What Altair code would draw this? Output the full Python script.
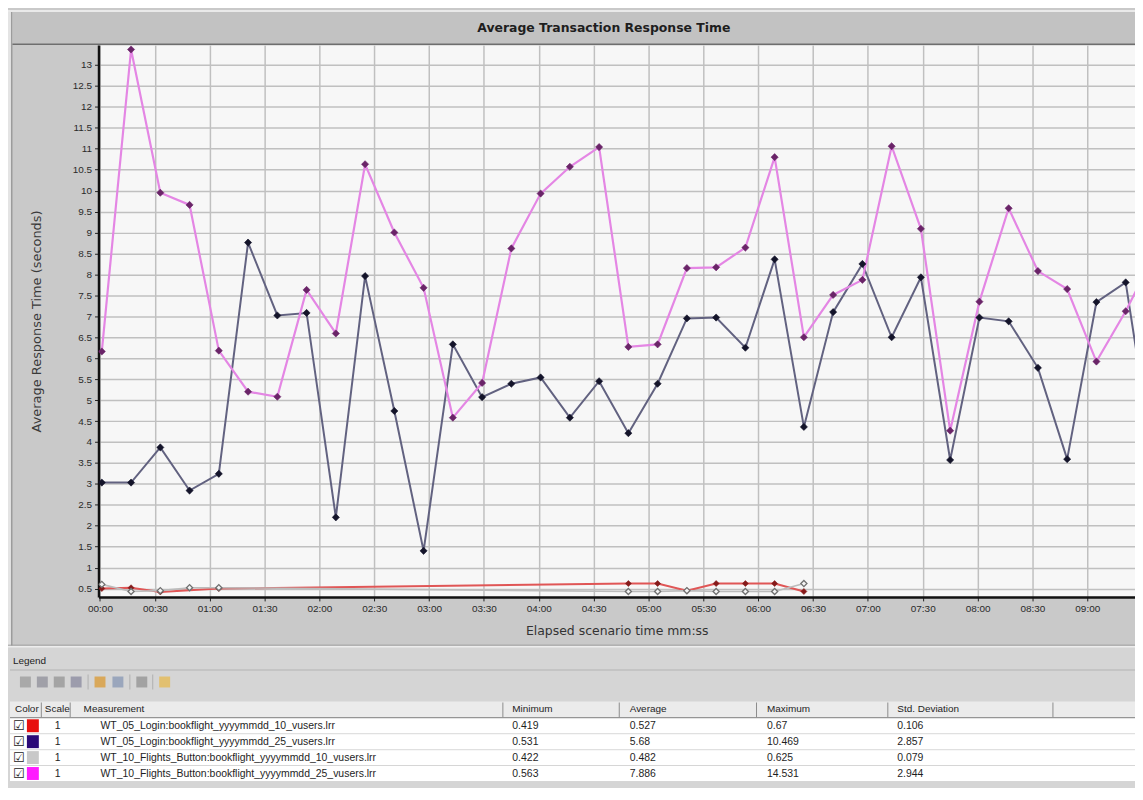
import altair as alt
import pandas as pd

# ---------------- data ----------------
STEP_S = 16          # sampling granularity in seconds
T_OFFSET = 1         # first sample sits just after 00:00

series_names = [
    "WT_05_Login:bookflight_yyyymmdd_10_vusers.lrr",
    "WT_05_Login:bookflight_yyyymmdd_25_vusers.lrr",
    "WT_10_Flights_Button:bookflight_yyyymmdd_10_vusers.lrr",
    "WT_10_Flights_Button:bookflight_yyyymmdd_25_vusers.lrr",
]
series_swatch = ["#e8100e", "#2b0a78", "#c8c8c8", "#ff1cff"]
stat_scale = ["1", "1", "1", "1"]
stat_min = ["0.419", "0.531", "0.422", "0.563"]
stat_avg = ["0.527", "5.68", "0.482", "7.886"]
stat_max = ["0.67", "10.469", "0.625", "14.531"]
stat_std = ["0.106", "2.857", "0.079", "2.944"]

# WT_10_Flights_Button, 25 vusers (magenta)
flights25_resp = [6.16, 13.37, 9.95, 9.66, 6.18, 5.20, 5.08, 7.63, 6.59,
                  10.63, 9.00, 7.68, 4.58, 5.41, 8.62, 9.93, 10.57, 11.04,
                  6.27, 6.33, 8.15, 8.17, 8.64, 10.80, 6.50, 7.51, 7.87,
                  11.06, 9.09, 4.27, 7.35, 9.58, 8.08, 7.65, 5.92, 7.12, 8.50]
# WT_05_Login, 25 vusers (indigo)
login25_resp = [3.03, 3.03, 3.87, 2.84, 3.24, 8.76, 7.02, 7.08, 2.20,
                7.96, 4.74, 1.40, 6.33, 5.07, 5.39, 5.54, 4.58, 5.45,
                4.21, 5.39, 6.95, 6.97, 6.25, 8.36, 4.36, 7.10, 8.25,
                6.50, 7.93, 3.57, 6.97, 6.88, 5.77, 3.59, 7.34, 7.81, 3.30]
# WT_05_Login, 10 vusers (red) - sample indices that have data
login10_idx = [0, 1, 2, 4, 18, 19, 20, 21, 22, 23, 24]
login10_resp = [0.50, 0.52, 0.42, 0.50, 0.62, 0.62, 0.45, 0.62, 0.62, 0.62, 0.43]
# WT_10_Flights_Button, 10 vusers (light gray)
flights10_idx = [0, 1, 2, 3, 4, 18, 19, 20, 21, 22, 23, 24]
flights10_resp = [0.60, 0.43, 0.45, 0.52, 0.52, 0.43, 0.43, 0.45, 0.43, 0.43, 0.43, 0.62]

x_tick_seconds = list(range(0, 541, 30))
y_tick_values = [k / 2 for k in range(1, 27)]

# ---------------- layout ----------------
PLOT_L, PLOT_T = 99, 43        # page position of the plot origin
W, H = 1042, 555
X_DOM = [-0.8, 566.1]
Y_DOM = [0.3, 13.48]

def frame(key, idx, vals):
    return pd.DataFrame({"t": [i * STEP_S + T_OFFSET for i in idx], "v": vals, "s": key})

df = pd.concat([
    frame("login10", login10_idx, login10_resp),
    frame("flights10", flights10_idx, flights10_resp),
    frame("login25", list(range(len(login25_resp))), login25_resp),
    frame("flights25", list(range(len(flights25_resp))), flights25_resp),
], ignore_index=True)

xs = alt.Scale(domain=X_DOM, nice=False, zero=False)
ys = alt.Scale(domain=Y_DOM, nice=False, zero=False)

label_expr = ("(floor(datum.value/60) < 10 ? '0' : '') + floor(datum.value/60) + ':' + "
              "(datum.value % 60 < 10 ? '0' : '') + (datum.value % 60)")

x_axis = alt.Axis(orient="bottom", values=x_tick_seconds, labelExpr=label_expr, labelFlush=False,
                  grid=True, gridColor="#c0c0c0", gridWidth=1.5,
                  domain=True, domainColor="#111111", domainWidth=2.5,
                  ticks=True, tickColor="#222222", tickSize=4, tickWidth=1,
                  labelFont="Liberation Sans", labelFontSize=10, labelColor="#2a2a2a", labelPadding=3,
                  title="Elapsed scenario time mm:ss", titleFont="DejaVu Sans", titleFontSize=12.5,
                  titleFontWeight="normal", titleColor="#333333", titleX=W / 2, titleY=34,
                  titleBaseline="middle", titleAlign="center")
y_axis = alt.Axis(orient="left", values=y_tick_values, format=".1~f",
                  grid=True, gridColor="#c0c0c0", gridWidth=1.5,
                  domain=True, domainColor="#111111", domainWidth=2.5,
                  ticks=True, tickColor="#222222", tickSize=4, tickWidth=1,
                  labelFont="Liberation Sans", labelFontSize=10, labelColor="#2a2a2a", labelPadding=3,
                  title="Average Response Time (seconds)", titleFont="DejaVu Sans", titleFontSize=13,
                  titleFontWeight="normal", titleColor="#3a3a3a", titleX=-62, titleY=H / 2,
                  titleBaseline="middle", titleAlign="center")

def xy(ch):
    return ch.encode(x=alt.X("t:Q", scale=xs, axis=x_axis), y=alt.Y("v:Q", scale=ys, axis=y_axis))

styles = {
    # key: line color, line width, marker fill, marker stroke, filled, marker size
    "login10": ("#e05656", 2.0, "#861a1a", "#861a1a", True, 36),
    "flights10": ("#bcbcbc", 1.6, "#f4f4f4", "#707070", False, 38),
    "login25": ("#626280", 2.0, "#14142a", "#14142a", True, 52),
    "flights25": ("#e486e4", 2.2, "#6a2468", "#6a2468", True, 52),
}
base = alt.Chart(df)
main_layers = []
for key in ["login10", "flights10", "login25", "flights25"]:
    lc, lw, mf, ms, filled, msz = styles[key]
    main_layers.append(xy(base.mark_line(color=lc, strokeWidth=lw, clip=True)
                          ).transform_filter(alt.datum.s == key))
for key in ["login10", "flights10", "login25", "flights25"]:
    lc, lw, mf, ms, filled, msz = styles[key]
    main_layers.append(xy(base.mark_point(shape="diamond", size=msz, filled=True, fill=mf,
                                          stroke=ms, strokeWidth=1.3 if not filled else 0.6,
                                          opacity=1, clip=True)
                          ).transform_filter(alt.datum.s == key))
main = alt.layer(*main_layers)

# ---------------- window chrome + legend table (page coordinates) ----------------
PX = alt.Scale(domain=[0, 1143], range=[-PLOT_L, 1143 - PLOT_L], nice=False, zero=False)
PY = alt.Scale(domain=[0, 800], range=[-PLOT_T, 800 - PLOT_T], nice=False, zero=False)

COL_SEP = [41, 70, 505, 622, 760, 892, 1058]
COL_TEXT_X = {"scale": 55, "name": 101, "min": 515, "avg": 633, "max": 771, "std": 902}
HEADER = [("Color", 15), ("Scale", 45), ("Measurement", 84), ("Minimum", 515),
          ("Average", 633), ("Maximum", 771), ("Std. Deviation", 902)]
HDR_Y0, HDR_Y1 = 703, 719
ROW_Y0, ROW_H = 720, 16

rects = []
def R(x0, y0, x1, y1, c):
    rects.append({"x0": x0, "y0": y0, "x1": x1, "y1": y1, "c": c})

R(8, 8, 11, 648, "#e4e4e4")
R(11, 8, 12.5, 648, "#9c9c9c")
R(8, 8, 1143, 10, "#e9e9e9")
R(12.5, 10, 1143, 41.5, "#c2c2c2")
R(12.5, 41.5, 1143, 43, "#6e6e6e")
R(8, 646, 1143, 647, "#8e8e8e")
R(8, 647, 1143, 649, "#ededed")
R(8, 649, 1143, 800, "#d5d5d5")
R(10, 671, 1141, 672, "#b4b4b4")
# toolbar icons
for ix, c in zip([20, 37, 54, 71, 95, 113, 137, 160],
                 ["#a9a9a9", "#a0a0a8", "#a4a4a4", "#9c9cac", "#d9a85a", "#9aa6bc", "#a2a2a2", "#e2c070"]):
    R(ix, 678, ix + 11, 689, c)
for sx in [88, 130, 153]:
    R(sx, 676, sx + 1, 691, "#b0b0b0")
# header
R(10, HDR_Y0, 1141, HDR_Y1, "#ebebeb")
R(10, HDR_Y1, 1141, HDR_Y1 + 1.5, "#7e7e7e")
for sx in COL_SEP:
    R(sx, HDR_Y0 + 1, sx + 1, HDR_Y1, "#8c8c8c")
# rows
for k in range(len(series_names)):
    y0 = ROW_Y0 + k * ROW_H
    R(10, y0, 1141, y0 + ROW_H, "#ffffff")
    R(10, y0 + ROW_H - 1, 1141, y0 + ROW_H, "#d6d6d6")
    R(27, y0 + 1, 39, y0 + ROW_H - 2, series_swatch[k])
rect_df = pd.DataFrame(rects)

texts = [{"x": 13, "y": 662, "txt": "Legend", "fs": 10}]
for label, hx in HEADER:
    texts.append({"x": hx, "y": (HDR_Y0 + HDR_Y1) / 2, "txt": label, "fs": 10})
for k in range(len(series_names)):
    yc = ROW_Y0 + k * ROW_H + ROW_H / 2
    for key, val in [("scale", stat_scale[k]), ("name", series_names[k]), ("min", stat_min[k]),
                     ("avg", stat_avg[k]), ("max", stat_max[k]), ("std", stat_std[k])]:
        texts.append({"x": COL_TEXT_X[key], "y": yc, "txt": val, "fs": 10.5})
text_df = pd.DataFrame(texts)
check_df = pd.DataFrame({"x": [13] * len(series_names),
                         "y": [ROW_Y0 + k * ROW_H + ROW_H / 2 for k in range(len(series_names))],
                         "txt": ["\u2611"] * len(series_names)})
title_df = pd.DataFrame({"x": [607], "y": [26], "txt": ["Average Transaction Response Time"]})

page_rects = alt.Chart(rect_df).mark_rect().encode(
    x=alt.X("x0:Q", scale=PX, axis=None), x2="x1:Q",
    y=alt.Y("y0:Q", scale=PY, axis=None), y2="y1:Q",
    color=alt.Color("c:N", scale=None))
page_text = alt.Chart(text_df).mark_text(align="left", baseline="middle", font="Liberation Sans",
                                         color="#1e1e1e").encode(
    x=alt.X("x:Q", scale=PX, axis=None), y=alt.Y("y:Q", scale=PY, axis=None),
    text="txt:N", size=alt.Size("fs:Q", scale=None))
page_checks = alt.Chart(check_df).mark_text(align="left", baseline="middle", font="DejaVu Sans",
                                            fontSize=13, color="#222222").encode(
    x=alt.X("x:Q", scale=PX, axis=None), y=alt.Y("y:Q", scale=PY, axis=None), text="txt:N")
page_title = alt.Chart(title_df).mark_text(align="center", baseline="middle", font="DejaVu Sans",
                                           fontSize=12.5, fontWeight="bold", color="#1e1e1e").encode(
    x=alt.X("x:Q", scale=PX, axis=None), y=alt.Y("y:Q", scale=PY, axis=None), text="txt:N")
page = alt.layer(page_rects, page_text, page_checks, page_title)

chart = alt.layer(page, main).resolve_scale(x="independent", y="independent").properties(
    width=W, height=H,
    autosize=alt.AutoSizeParams(type="none"),
    padding={"left": PLOT_L - 8, "top": PLOT_T - 8, "right": 0, "bottom": 190},
).configure(background="#c9c9c9").configure_view(fill="#f7f7f7", stroke="transparent")

chart.save("out.html", embed_options={"renderer": "svg", "actions": False})
